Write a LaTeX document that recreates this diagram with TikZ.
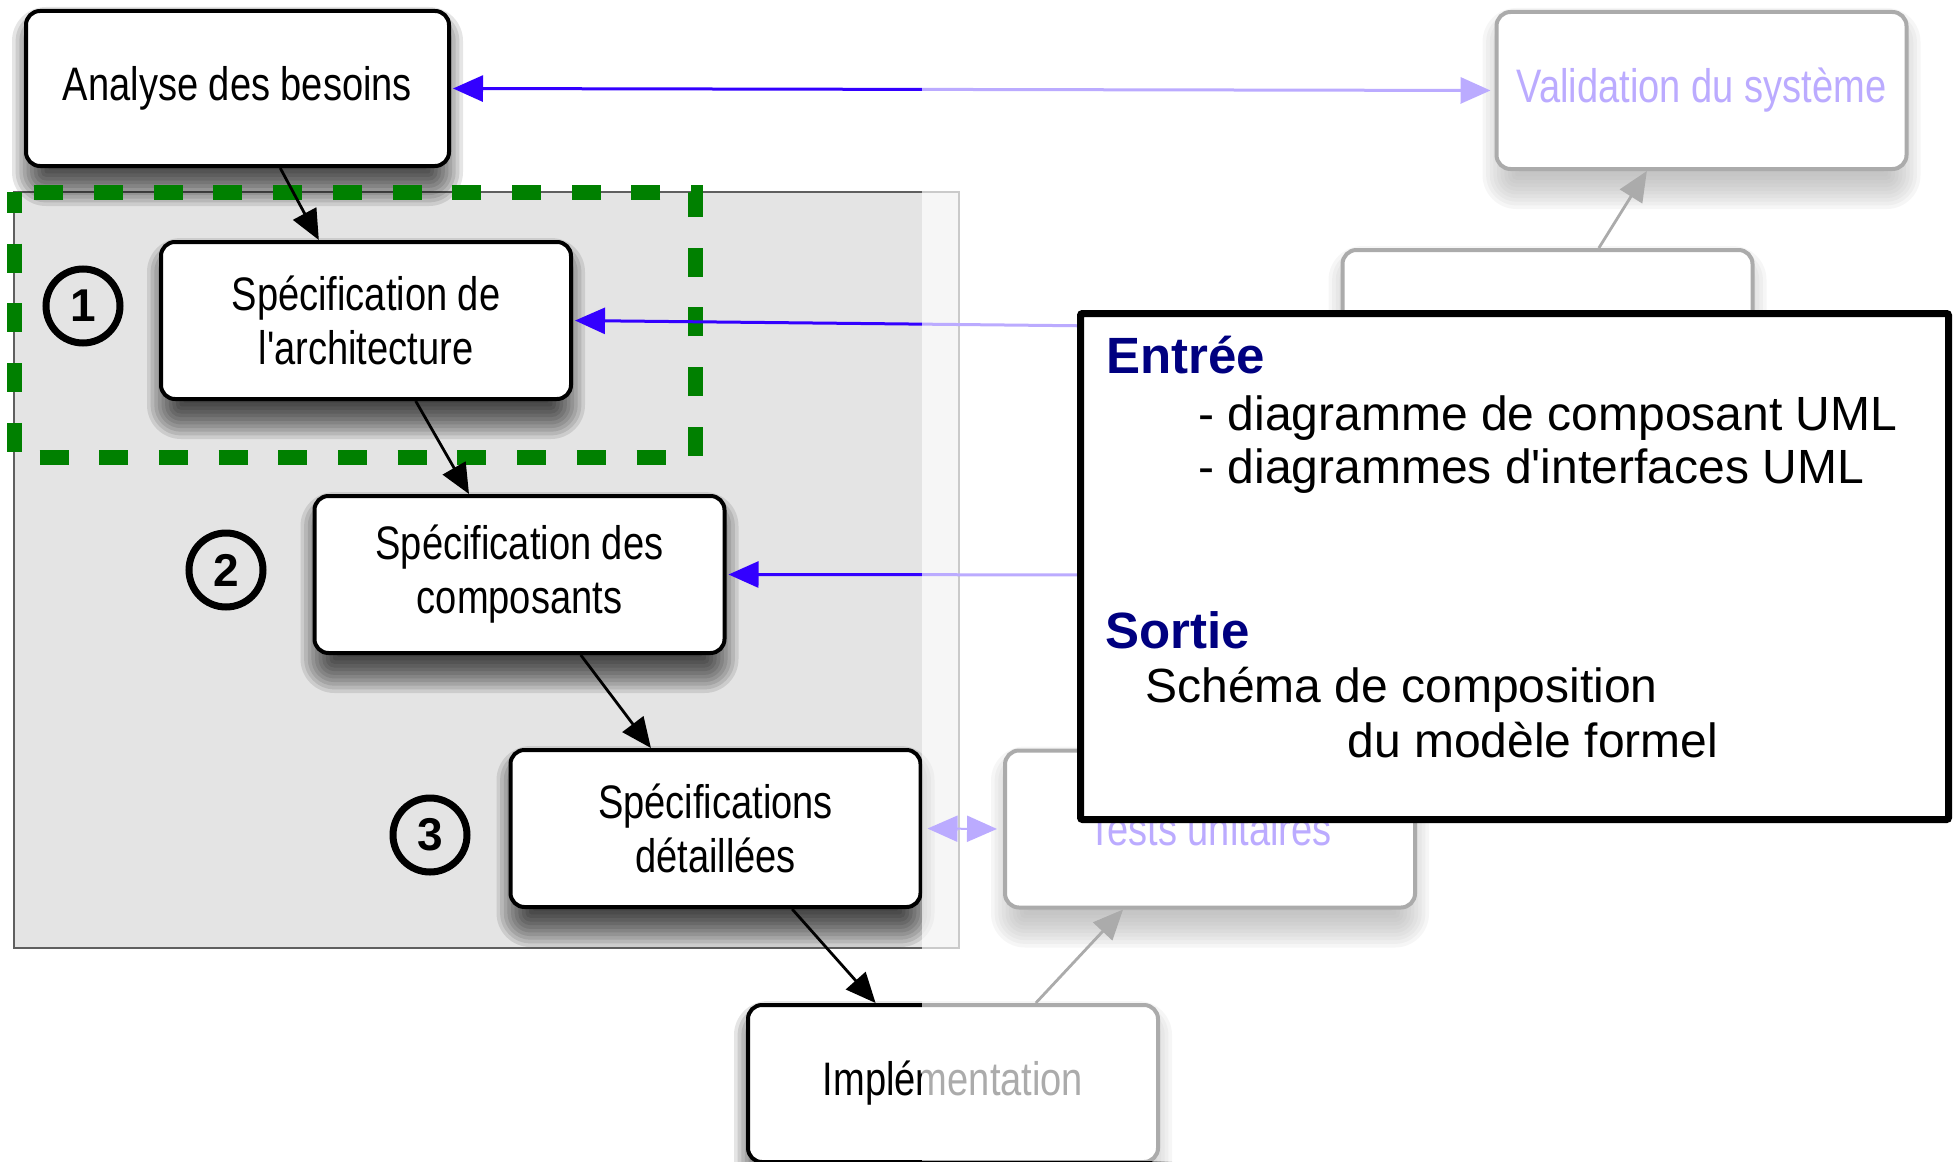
\documentclass[tikz,border=0pt]{standalone}
\usepackage{fontspec}
\setmainfont{Liberation Sans}[Ligatures=TeXOff]
\newfontfamily\narrowsans[FakeStretch=0.81]{Liberation Sans}
\usetikzlibrary{arrows.meta,calc}

\definecolor{vblue}{RGB}{51,0,255}
\definecolor{vgreen}{RGB}{0,128,0}
\definecolor{navytext}{RGB}{0,0,128}
\definecolor{panelgray}{RGB}{228,228,228}
\definecolor{paneledge}{RGB}{95,95,95}

\pgfdeclarelayer{back}
\pgfdeclarelayer{shade}
\pgfsetlayers{back,shade,main}

% soft drop shadow below a stage box, built from stacked translucent layers
\newcommand{\stageshade}[1]{%
  \begin{pgfonlayer}{shade}
  \foreach \i in {0,...,11}{%
    \pgfmathsetmacro{\ex}{-10+20*\i/11}%
    \pgfmathsetmacro{\rc}{max(1,7+\ex)}%
    \pgfmathsetmacro{\lx}{4-\ex}%
    \pgfmathsetmacro{\ly}{-9-\ex}%
    \pgfmathsetmacro{\rx}{-4+\ex}%
    \pgfmathsetmacro{\ry}{-9+\ex}%
    \fill[black, opacity=0.1, rounded corners=\rc pt]
      ($(#1.south west)+(\lx pt,\ly pt)$) rectangle ($(#1.north east)+(\rx pt,\ry pt)$);
  }
  \end{pgfonlayer}}

\begin{document}
\begin{tikzpicture}[x=0.5pt,y=-0.5pt,
  >={Triangle[length=15pt,width=13pt]},
  stage/.style={draw=black, line width=2pt, fill=white, rounded corners=7pt,
    minimum width=205pt, minimum height=78.5pt, inner sep=2pt, align=center,
    font=\narrowsans\fontsize{23.5pt}{27pt}\selectfont},
  flow/.style={draw=black, line width=1.4pt, ->},
  link/.style={draw=vblue, line width=1.5pt},
  phase/.style={circle, draw=black, line width=3.5pt, minimum size=37pt,
    inner sep=0pt, font=\bfseries\fontsize{23pt}{23pt}\selectfont},
  infobox/.style={draw=black, line width=3.5pt, fill=white, rounded corners=1pt},
  head/.style={anchor=base west, inner sep=0pt, text=navytext,
    font=\bfseries\fontsize{25.5pt}{30pt}\selectfont},
  body/.style={anchor=base west, inner sep=0pt,
    font=\fontsize{24pt}{28pt}\selectfont}]

\useasboundingbox (0,0) rectangle (1958,1161);
\clip (0,0) rectangle (1958,1161);

\begin{pgfonlayer}{back}
\fill[white] (0,0) rectangle (1958,1161);
% shaded panel holding the design phases
\draw[fill=panelgray, draw=paneledge, line width=1pt] (14,192) rectangle (959,948);
\end{pgfonlayer}

% highlighted phase
\draw[vgreen, line width=7.5pt, dash pattern=on 14.5pt off 15.35pt, dash phase=4pt]
  (14,192) rectangle (695,457);

% V-model stages
\node[stage, minimum width=211.5pt, minimum height=77.5pt] (anal) at (237.5,88.5) {Analyse des besoins};
\node[stage] (arch) at (366,320.5) {Spécification de\\l'architecture};
\node[stage] (comp) at (519.5,574.5) {Spécification des\\composants};
\node[stage] (det) at (715.5,828.5) {Spécifications\\détaillées};
\node[stage] (impl) at (953,1083.5) {Implémentation};
\node[stage, text=vblue] (tests) at (1210,829) {Tests unitaires};
\node[stage] (integ) at (1547.5,328.5) {};
\node[stage, text=vblue] (valid) at (1701.5,90.5) {Validation du système};

\foreach \n in {anal,arch,comp,det,impl,tests,integ,valid}{\stageshade{\n}}

% descending branch
\draw[flow] ($(anal.south west)!0.60!(anal.south east)$) -- ($(arch.north west)!0.386!(arch.north east)$);
\draw[flow] ($(arch.south west)!0.62!(arch.south east)$) -- ($(comp.north west)!0.378!(comp.north east)$);
\draw[flow] ($(comp.south west)!0.648!(comp.south east)$) -- ($(det.north west)!0.344!(det.north east)$);
\draw[flow] ($(det.south west)!0.685!(det.south east)$) -- ($(impl.north west)!0.313!(impl.north east)$);
% ascending branch
\draw[flow] ($(impl.north west)!0.70!(impl.north east)$) -- ($(tests.south west)!0.29!(tests.south east)$);
\draw[flow] ($(integ.north west)!0.624!(integ.north east)$) -- ($(valid.south west)!0.368!(valid.south east)$);

% links between specification and validation levels
\draw[link, <->, shorten <=1pt, shorten >=2pt] (anal.east) -- (valid.west);
\draw[link, <->, shorten <=1pt] (arch.east) -- (integ.west);
\coordinate (compend) at (1200,575);
\draw[link, <-, shorten <=1pt] (comp.east) -- (compend);
\draw[link, line width=1pt, <->, shorten <=2.5pt, shorten >=3pt] (det.east) -- (tests.west);

% phase numbers
\node[phase] (p1) at (83,306) {1};
\node[phase] (p2) at (226,570) {2};
\node[phase] (p3) at (430,835) {3};

% the right part of the model is faded out
\fill[white, fill opacity=0.67] (922,0) rectangle (1958,1161);

% inputs and outputs of the phase
\node[infobox, minimum width=434pt, minimum height=253pt] (info) at (1514.5,566.5) {};
\node[head] (entree) at (1106,373) {Entrée};
\node[body] (in1) at (1198,430) {- diagramme de composant UML};
\node[body] (in2) at (1198,483) {- diagrammes d'interfaces UML};
\node[head] (sortie) at (1105,648) {Sortie};
\node[body] (out1) at (1145,702) {Schéma de composition};
\node[body] (out2) at (1347,757) {du modèle formel};
\end{tikzpicture}
\end{document}
